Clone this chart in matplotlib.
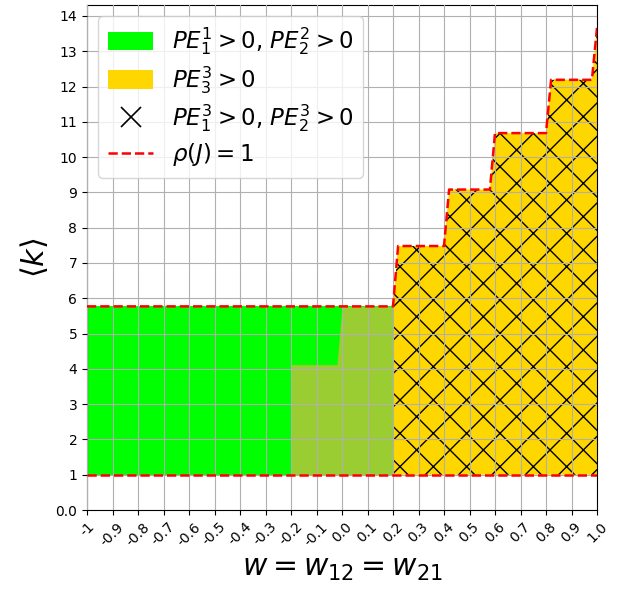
import numpy as np
import matplotlib
matplotlib.use('Agg')
import matplotlib.pyplot as plt
from matplotlib.patches import Patch
from matplotlib.lines import Line2D

# rho(J) = 1 boundary (upper curve)
w_rho = [-1.0, 0.2, 0.22, 0.40, 0.42, 0.58, 0.60, 0.80, 0.82, 0.98, 1.0]
k_rho = [5.77, 5.77, 7.48, 7.48, 9.08, 9.08, 10.68, 10.68, 12.19, 12.19, 13.66]
# lower boundary
w_low = [-1.0, 1.0]
k_low = [1.0, 1.0]

# PE_1^1 > 0, PE_2^2 > 0 region
w_green = [-1.0, 0.2]
k_green = [5.77, 5.77]
# overlap region (drawn yellowgreen)
w_mix = [-0.2, -0.02, 0.0, 0.2]
k_mix = [4.12, 4.12, 5.77, 5.77]
# PE_3^3 > 0 region starts at w = 0.2
w_gold_start = 0.2

w_ticks = [-1.0, -0.9, -0.8, -0.7, -0.6, -0.5, -0.4, -0.3, -0.2, -0.1, 0.0,
           0.1, 0.2, 0.3, 0.4, 0.5, 0.6, 0.7, 0.8, 0.9, 1.0]
w_ticklabels = ['-1', '-0.9', '-0.8', '-0.7', '-0.6', '-0.5', '-0.4', '-0.3', '-0.2',
                '-0.1', '0.0', '0.1', '0.2', '0.3', '0.4', '0.5', '0.6', '0.7',
                '0.8', '0.9', '1.0']
k_ticks = list(range(15))
k_ticklabels = ['0.0'] + [str(v) for v in range(1, 15)]

fig = plt.figure(figsize=(6.19, 5.91), dpi=100)
ax = fig.add_subplot(111)
fig.subplots_adjust(left=87 / 619, right=597 / 619, bottom=1 - 510 / 591, top=1 - 5 / 591)

w_rho_a = np.array(w_rho)
k_rho_a = np.array(k_rho)
sel = w_rho_a >= w_gold_start

ax.fill_between(w_green, k_low[0], k_green, color='lime', linewidth=0, zorder=1)
ax.fill_between(w_mix, k_low[0], k_mix, color='yellowgreen', linewidth=0, zorder=1.1)
ax.fill_between(w_rho_a[sel], k_low[0], k_rho_a[sel], facecolor='gold',
                edgecolor='black', hatch='x', linewidth=0, zorder=1.2)

ax.plot(w_rho, k_rho, color='red', linestyle='--', linewidth=1.8, zorder=3)
ax.plot(w_low, k_low, color='red', linestyle='--', linewidth=1.8, zorder=3)

ax.set_xlim(-1, 1)
ax.set_ylim(0, 14.31)
ax.set_xticks(w_ticks)
ax.set_xticklabels(w_ticklabels, rotation=45)
ax.set_yticks(k_ticks)
ax.set_yticklabels(k_ticklabels)
ax.grid(True, color='#b0b0b0', zorder=2)
ax.set_axisbelow(False)

ax.set_xlabel(r'$w = w_{12} = w_{21}$', fontsize=21.5)
ax.set_ylabel(r'$\langle k \rangle$', fontsize=22)

handles = [
    Patch(facecolor='lime'),
    Patch(facecolor='gold'),
    Line2D([], [], marker='x', color='black', linestyle='None', markersize=14,
           markeredgewidth=1.2),
    Line2D([], [], color='red', linestyle='--', linewidth=1.8),
]
labels = [r'$PE_1^1 > 0$, $PE_2^2 > 0$', r'$PE_3^3 > 0$',
          r'$PE_1^3 > 0$, $PE_2^3 > 0$', r'$\rho(J) = 1$']
ax.legend(handles, labels, loc='upper left', fontsize=16.5, labelspacing=0.3,
          handleheight=0.85)

fig.savefig('out.png', dpi=100)
